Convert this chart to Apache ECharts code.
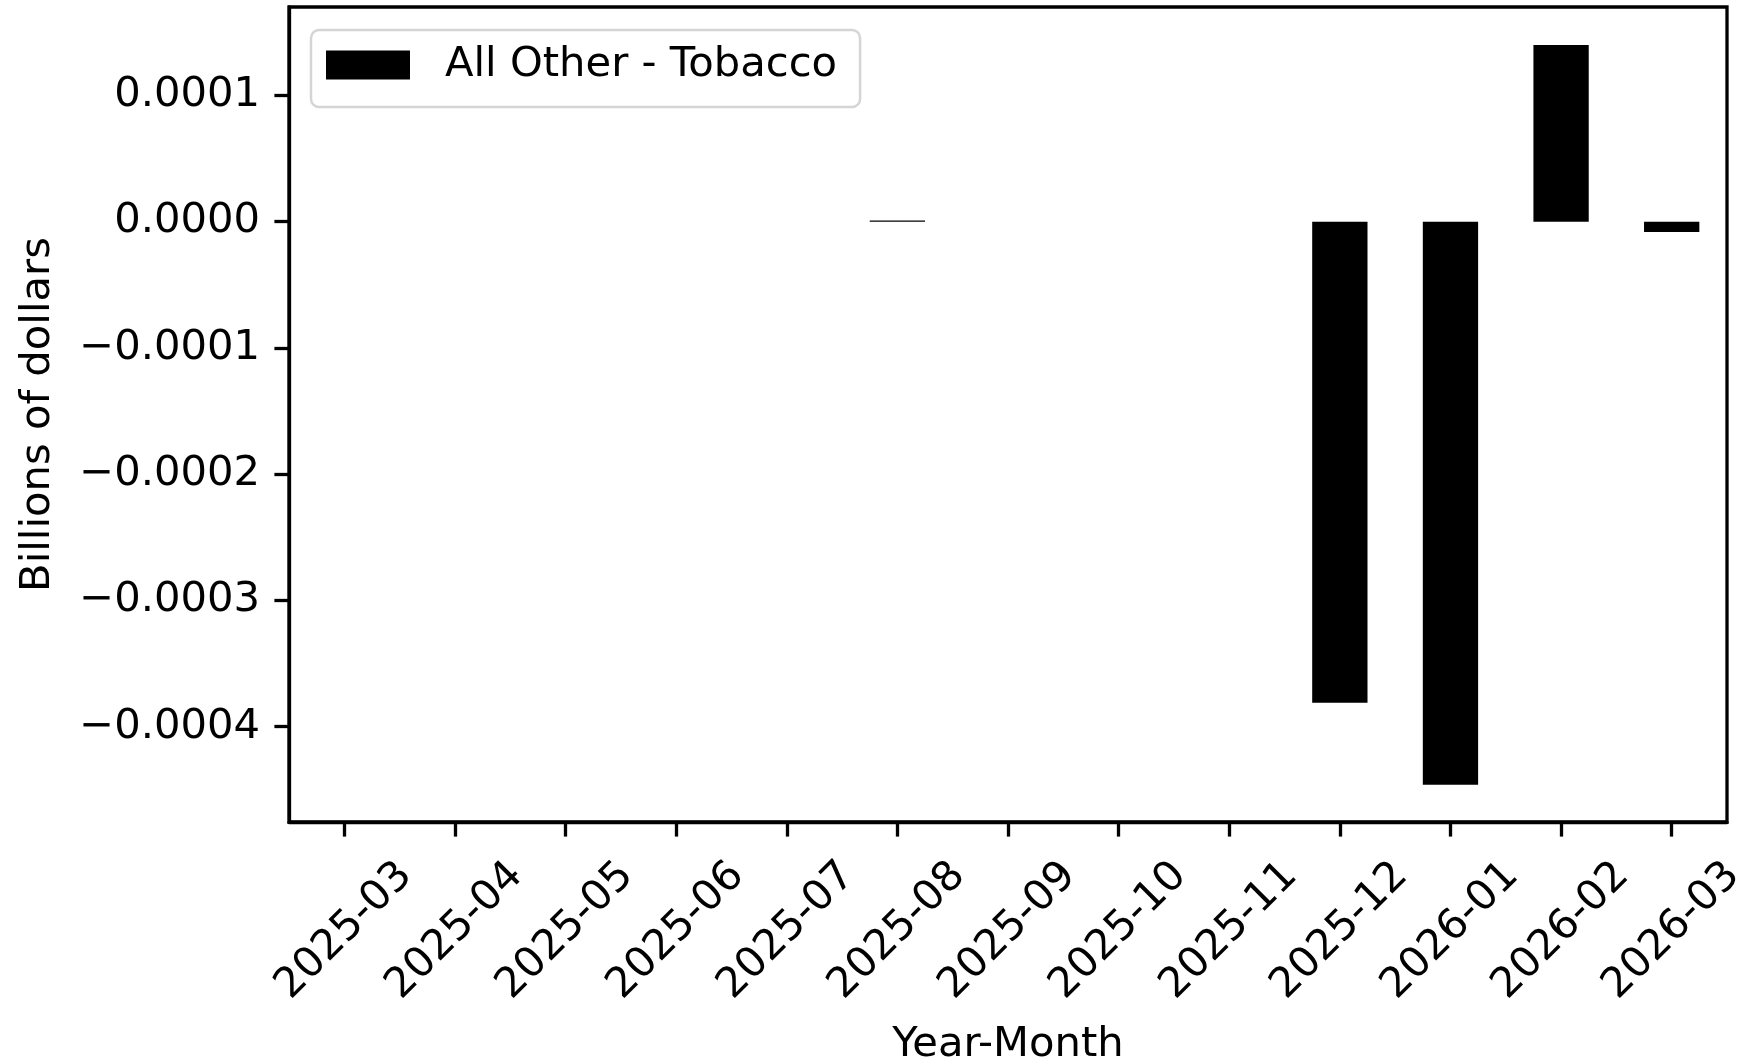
<!DOCTYPE html>
<html>
<head>
<meta charset="utf-8">
<script src="https://cdn.jsdelivr.net/npm/echarts@6/dist/echarts.min.js"></script>
<style>
html,body{margin:0;padding:0;background:#fff;}
#chart{width:1752px;height:1063px;}
</style>
</head>
<body>
<div id="chart"></div>
<script>
const categories = ["2025-03","2025-04","2025-05","2025-06","2025-07","2025-08","2025-09","2025-10","2025-11","2025-12","2026-01","2026-02","2026-03"];
const seriesName = "All Other - Tobacco";
const values = [null, null, null, null, null, 0.000001, null, null, null, -0.000381, -0.000446, 0.00014, -0.0000082];
const yTicks = [-0.0004, -0.0003, -0.0002, -0.0001, 0, 0.0001];
const yMin = -0.0004755, yMax = 0.00017;

const FONT = "DejaVu Sans";
const FS = 41.7;
const chart = echarts.init(document.getElementById('chart'), null, {renderer: 'canvas'});
function fmt(v){
  const r = Math.round(v * 10000) / 10000;
  return (r < 0 ? '\u2212' : '') + Math.abs(r).toFixed(4);
}
chart.setOption({
  animation: false,
  backgroundColor: '#ffffff',
  grid: {left: 289, right: 25, top: 7, bottom: 241, containLabel: false, outerBoundsMode: 'none', show: true, borderColor: '#000', borderWidth: 3.3, backgroundColor: 'transparent'},
  legend: {
    show: true,
    left: 311, top: 30,
    orient: 'vertical',
    icon: 'rect',
    itemWidth: 84, itemHeight: 29,
    padding: [14, 23, 21, 15],
    backgroundColor: '#ffffff',
    borderColor: '#d5d5d5', borderWidth: 2.5, borderRadius: 8,
    textStyle: {fontFamily: FONT, fontSize: FS, color: '#000', padding: [0, 0, 0, 30]},
    data: [seriesName]
  },
  xAxis: {
    type: 'category',
    data: categories,
    boundaryGap: true,
    name: 'Year-Month',
    nameLocation: 'middle',
    nameGap: 202,
    nameTextStyle: {fontFamily: FONT, fontSize: FS, color: '#000'},
    axisLine: {show: true, onZero: false, lineStyle: {color: '#000', width: 3.3}},
    axisTick: {show: true, alignWithLabel: true, length: 14.6, lineStyle: {color: '#000', width: 3.3}},
    axisLabel: {interval: 0, rotate: 45, align: 'center', verticalAlign: 'middle', margin: 109, fontFamily: FONT, fontSize: FS, color: '#000'},
    splitLine: {show: false}
  },
  yAxis: {
    type: 'value',
    min: yMin, max: yMax,
    name: 'Billions of dollars',
    nameLocation: 'middle',
    nameGap: 230,
    nameTextStyle: {fontFamily: FONT, fontSize: FS, color: '#000'},
    axisLine: {show: true, lineStyle: {color: '#000', width: 3.3}},
    axisTick: {show: true, length: 14.6, lineStyle: {color: '#000', width: 3.3}, customValues: yTicks},
    axisLabel: {margin: 29, fontFamily: FONT, fontSize: FS, color: '#000', customValues: yTicks, formatter: fmt},
    splitLine: {show: false}
  },
  series: [{
    name: seriesName,
    type: 'bar',
    data: values,
    barWidth: '50%',
    itemStyle: {color: '#000'}
  }]
});
</script>
</body>
</html>
